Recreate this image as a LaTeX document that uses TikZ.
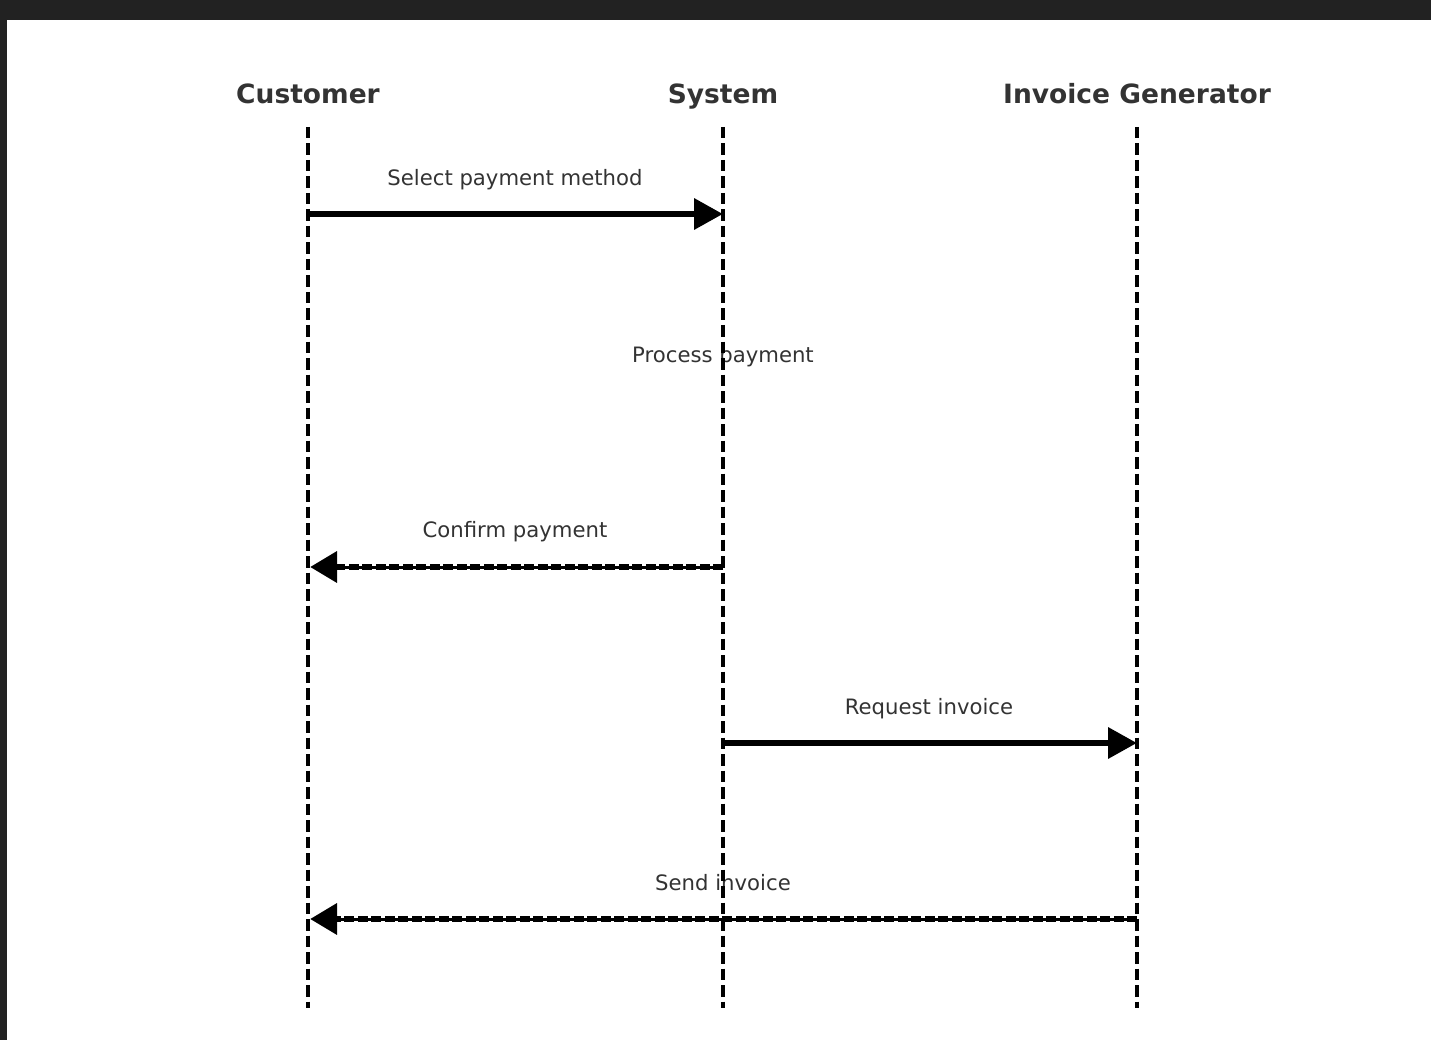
\documentclass[tikz,border=0pt]{standalone}
\usepackage{fontspec}
\setmainfont{DejaVu Sans}
\usetikzlibrary{arrows.meta}
\definecolor{framecol}{HTML}{222222}
\definecolor{txtcol}{HTML}{333333}
\tikzset{
  head/.style={anchor=base, inner sep=0pt, text=txtcol, font=\fontsize{26.5}{30}\selectfont\bfseries},
  msglabel/.style={anchor=base, inner sep=0pt, text=txtcol, font=\fontsize{21.2}{24}\selectfont},
  lifeline/.style={line width=3.2pt, dash pattern=on 11.5pt off 5pt, black},
  callarrow/.style={line width=6.5pt, black, -{Triangle[length=29pt,width=30pt]}},
  retarrow/.style={line width=6.5pt, black, dash pattern=on 10pt off 3.5pt, -{Triangle[length=27pt,width=30pt]}},
  retcore/.style={line width=3pt, black},
}
\begin{document}
\begin{tikzpicture}[x=1pt,y=-1pt]
\useasboundingbox (0,0) rectangle (1431,1040);
\fill[white] (0,0) rectangle (1431,1040);
\fill[framecol] (0,0) rectangle (1431,20);
\fill[framecol] (0,0) rectangle (7,1040);

% headers
\node[head] (hcust) at (308,104) {Customer};
\node[head] (hsys) at (723,104) {System};
\node[head] (hinv) at (1137,104) {Invoice Generator};

% lifeline ends
\coordinate (custT) at (308,127);
\coordinate (custB) at (308,1008);
\coordinate (sysT) at (723,127);
\coordinate (sysB) at (723,1008);
\coordinate (invT) at (1137,127);
\coordinate (invB) at (1137,1008);

% message points
\coordinate (m1a) at (308,214);
\coordinate (m1b) at (723,214);
\coordinate (m3a) at (723,567);
\coordinate (m3b) at (310,567);
\coordinate (m4a) at (723,743);
\coordinate (m4b) at (1137,743);
\coordinate (m5a) at (1137,919);
\coordinate (m5b) at (310,919);

% labels
\node[msglabel] (l1) at (515,186) {Select payment method};
\node[msglabel] (l2) at (723,362) {Process payment};
\node[msglabel] (l3) at (515,537) {Confirm payment};
\node[msglabel] (l4) at (929,714) {Request invoice};
\node[msglabel] (l5) at (723,890) {Send invoice};

% messages
\draw[callarrow] (m1a) -- (m1b);
\draw[retarrow] (m3a) -- (m3b);
\draw[retcore, shorten >=20pt] (m3a) -- (m3b);
\draw[callarrow] (m4a) -- (m4b);
\draw[retarrow] (m5a) -- (m5b);
\draw[retcore, shorten >=20pt] (m5a) -- (m5b);

% lifelines on top
\draw[lifeline] (custT) -- (custB);
\draw[lifeline] (sysT) -- (sysB);
\draw[lifeline] (invT) -- (invB);
\end{tikzpicture}
\end{document}
